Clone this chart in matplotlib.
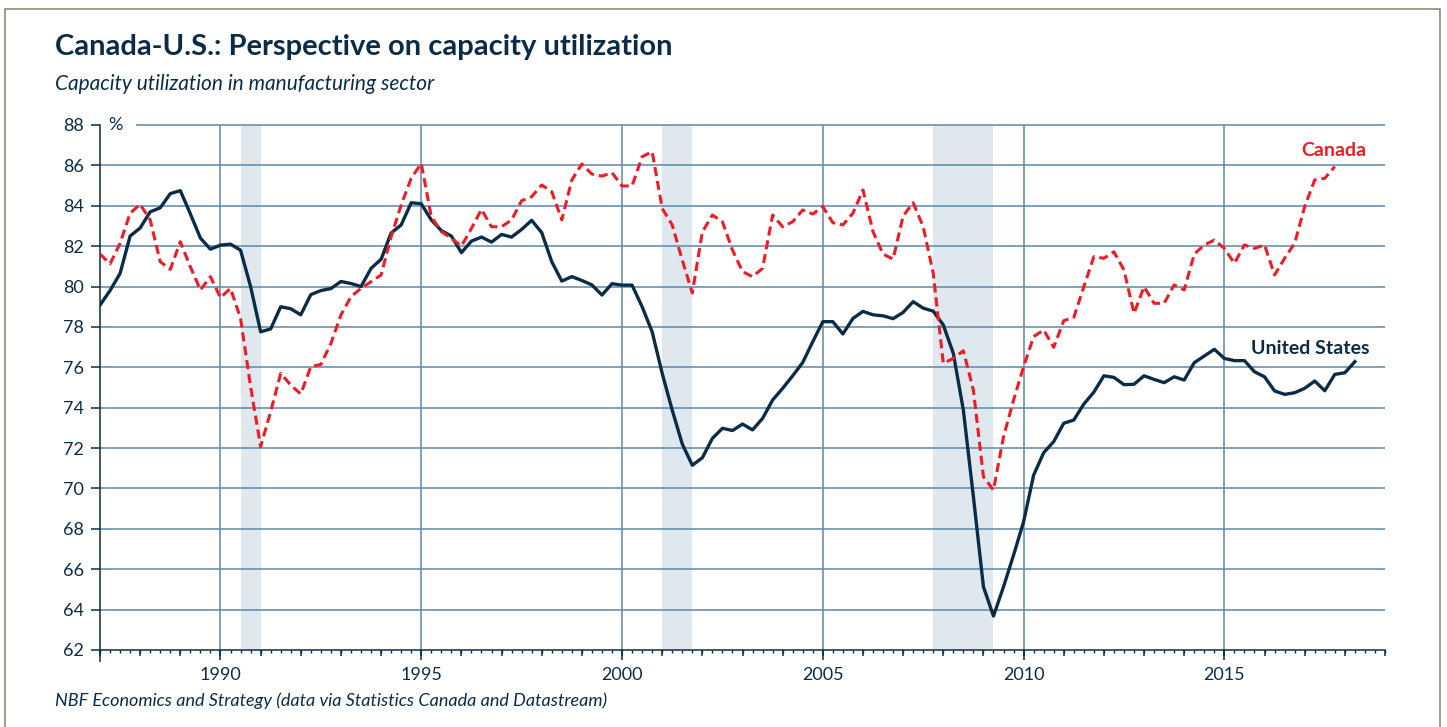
import numpy as np
import matplotlib
matplotlib.use("Agg")
import matplotlib.pyplot as plt
from matplotlib.transforms import blended_transform_factory
from matplotlib.patches import Rectangle

plt.rcParams['font.family'] = ['Lato', 'DejaVu Sans']

# quarterly data, starting 1987Q1
us = [79.08, 79.8, 80.65, 82.5,
      82.9, 83.7, 83.9, 84.6,
      84.75, 83.6, 82.4, 81.85,
      82.05, 82.1, 81.8, 80.0,
      77.76, 77.9, 79.0, 78.9,
      78.6, 79.6, 79.8, 79.9,
      80.25, 80.15, 80.0, 80.9,
      81.35, 82.65, 83.05, 84.15,
      84.1, 83.3, 82.77, 82.5,
      81.68, 82.25, 82.45, 82.2,
      82.58, 82.45, 82.83, 83.28,
      82.67, 81.23, 80.27, 80.49,
      80.3, 80.08, 79.58, 80.14,
      80.07, 80.07, 79.0, 77.76,
      75.7, 73.88, 72.2, 71.15,
      71.52, 72.48, 72.98, 72.87,
      73.19, 72.9, 73.47, 74.38,
      74.96, 75.58, 76.24, 77.27,
      78.26, 78.26, 77.65, 78.42,
      78.77, 78.6, 78.55, 78.41,
      78.72, 79.25, 78.93, 78.78,
      78.1, 76.69, 73.88, 69.59,
      65.13, 63.68, 65.13, 66.7,
      68.35, 70.66, 71.77, 72.32,
      73.23, 73.39, 74.18, 74.77,
      75.58, 75.5, 75.14, 75.16,
      75.58, 75.4, 75.24, 75.53,
      75.37, 76.23, 76.56, 76.89,
      76.44, 76.33, 76.33, 75.78,
      75.53, 74.83, 74.66, 74.74,
      74.96, 75.32, 74.84, 75.65,
      75.73, 76.28]

canada = [81.61, 81.12, 82.14, 83.63,
          84.07, 83.3, 81.23, 80.85,
          82.22, 80.98, 79.83, 80.49,
          79.45, 79.91, 78.42, 75.04,
          72.07, 73.8, 75.7, 75.12,
          74.68, 76.03, 76.14, 77.18,
          78.59, 79.5, 79.91, 80.24,
          80.57, 82.47, 84.04, 85.36,
          86.1, 83.46, 82.72, 82.39,
          82.0, 82.88, 83.82, 82.96,
          82.96, 83.3, 84.25, 84.45,
          85.03, 84.7, 83.3, 85.28,
          86.07, 85.57, 85.47, 85.64,
          84.98, 84.98, 86.43, 86.68,
          83.87, 83.05, 81.31, 79.68,
          82.7, 83.54, 83.21, 81.81,
          80.74, 80.49, 80.9, 83.54,
          82.96, 83.21, 83.79, 83.59,
          83.96, 83.16, 83.05, 83.63,
          84.78, 82.72, 81.61, 81.36,
          83.49, 84.15, 82.96, 80.65,
          76.2, 76.44, 76.82, 74.87,
          70.58, 69.92, 72.56, 74.38,
          76.03, 77.52, 77.85, 76.99,
          78.31, 78.47, 79.99, 81.48,
          81.4, 81.72, 80.82, 78.67,
          79.99, 79.17, 79.17, 80.08,
          79.83, 81.61, 82.06, 82.3,
          81.89, 81.15, 82.06, 81.89,
          82.06, 80.57, 81.4, 82.14,
          83.96, 85.28, 85.36, 85.94]

recessions = [(1990.5, 1991.0), (2001.0, 2001.75), (2007.75, 2009.25)]
year_labels = [1990, 1995, 2000, 2005, 2010, 2015]
y_ticks = list(range(62, 89, 2))

start = 1987.0
us_x = start + np.arange(len(us)) / 4
ca_x = start + np.arange(len(canada)) / 4

navy = '#0b2c47'
red = '#ee1c25'
grid = '#5f88a6'

fig = plt.figure(figsize=(14.47, 7.27), dpi=100)
ax = fig.add_axes([100 / 1447, 77 / 727, 1285 / 1447, 525 / 727])

for a, b in recessions:
    ax.axvspan(a, b, color='#dfe7ef', lw=0, zorder=0)

for yv in y_ticks[1:-1]:
    ax.axhline(yv, color=grid, lw=1.1, zorder=1)
ax.hlines(88, 1987.9, 2019, color=grid, lw=1.1, zorder=1, clip_on=False)
for xv in year_labels:
    ax.axvline(xv, color=grid, lw=1.1, zorder=1)

ax.plot(us_x, us, color=navy, lw=2.4, zorder=3)
ax.plot(ca_x, canada, color=red, lw=2.2, ls=(0, (3, 1.6)), zorder=4)

ax.set_xlim(1987, 2019)
ax.set_ylim(62, 88)
ax.set_yticks(y_ticks)
ax.set_xticks(year_labels)
ax.set_xticks(np.arange(1987, 2019.01, 0.25), minor=True)

for s in ['top', 'right']:
    ax.spines[s].set_visible(False)
for s in ['left', 'bottom']:
    ax.spines[s].set_color(navy)
    ax.spines[s].set_linewidth(1.1)

ax.tick_params(axis='y', length=6.5, width=1.1, color=navy, labelcolor=navy,
               labelsize=13, pad=5)
ax.tick_params(axis='x', which='major', length=7, width=1.1, color=navy,
               labelcolor=navy, labelsize=13, pad=5)
ax.tick_params(axis='x', which='minor', length=2.5, width=1.0, color=navy)

# yearly ticks (medium length)
tr = blended_transform_factory(ax.transData, ax.transAxes)
yrs = np.arange(1987, 2020)
ax.vlines(yrs, 0, -6 / 525, transform=tr, color=navy, lw=1.1, clip_on=False)
ax.vlines([1987], 0, -12 / 525, transform=tr, color=navy, lw=1.1, clip_on=False)

ax.text(1987.2, 88, '%', color=navy, fontsize=13, va='center', ha='left')

ax.text(2017.73, 86.76, 'Canada', color=red, fontsize=14, fontweight='bold',
        ha='center', va='center')
ax.text(2017.13, 76.95, 'United States', color=navy, fontsize=14,
        fontweight='bold', ha='center', va='center')

fig.text(55 / 1447, 1 - 47 / 727, 'Canada-U.S.: Perspective on capacity utilization',
         color=navy, fontsize=21, fontweight='bold', ha='left', va='center')
fig.text(55 / 1447, 1 - 84 / 727, 'Capacity utilization in manufacturing sector',
         color=navy, fontsize=15, style='italic', ha='left', va='center')
fig.text(55 / 1447, 1 - 701 / 727,
         'NBF Economics and Strategy (data via Statistics Canada and Datastream)',
         color=navy, fontsize=13, style='italic', ha='left', va='center')

fig.patches.append(Rectangle((5 / 1447, -0.05), 1435 / 1447, 1.05 - 9 / 727,
                             transform=fig.transFigure, fill=False,
                             edgecolor='#8d8d78', lw=1.2))

fig.savefig('out.png', dpi=100)
